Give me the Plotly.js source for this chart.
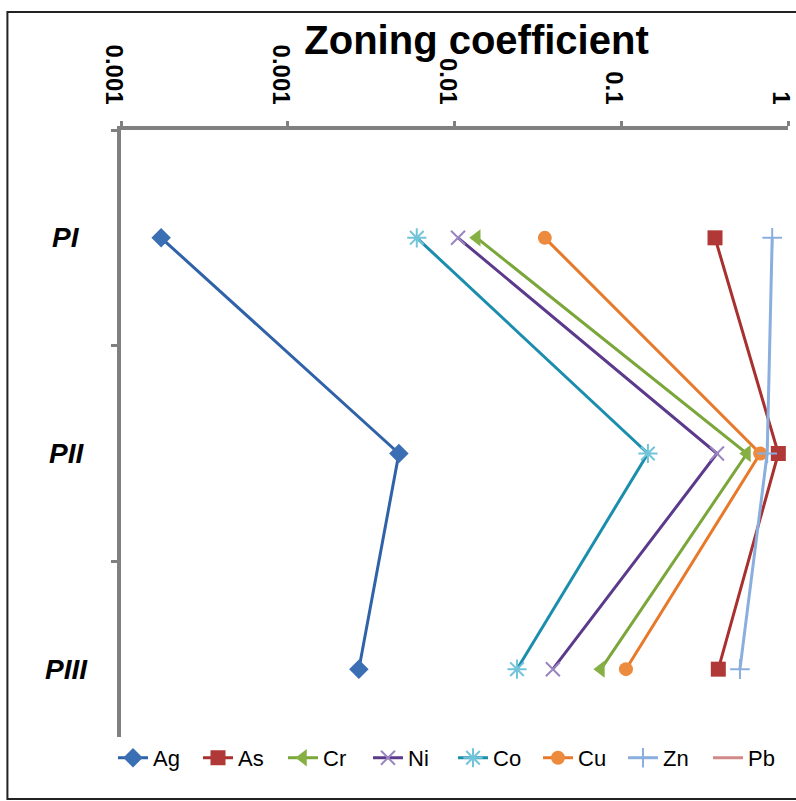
<!DOCTYPE html>
<html>
<head>
<meta charset="utf-8">
<script src="https://cdn.plot.ly/plotly-3.0.1.min.js"></script>
<style>
  html, body { margin: 0; padding: 0; background: #ffffff; }
  #chart { width: 796px; height: 801px; }
</style>
</head>
<body>
<div id="chart"></div>
<script>
// Zoning coefficient of each element for the three stages
const stages = ['PI', 'PII', 'PIII'];

const ag = [0.000174, 0.00464, 0.00267];
const as = [0.365, 0.875, 0.382];
const cr = [0.0136, 0.567, 0.0755];
const ni = [0.0105, 0.375, 0.0389];
const co = [0.00594, 0.1445, 0.0237];
const cu = [0.0348, 0.681, 0.1067];
const zn = [0.804, 0.75, 0.515];
const pb = [null, null, null];

const xTickVals = [0.0001, 0.001, 0.01, 0.1, 1];
const xTickText = ['0.001', '0.001', '0.01', '0.1', '1'];

function series(name, values, lineColor, markerColor, symbol, size, open) {
  const marker = { symbol: symbol, size: size, color: markerColor };
  if (open) marker.line = { color: markerColor, width: 2 };
  return {
    type: 'scatter',
    mode: 'lines+markers',
    name: name,
    x: values,
    y: stages,
    line: { color: lineColor, width: 3 },
    marker: marker
  };
}

const traces = [
  series('Ag', ag, '#2f62a8', '#3a6fb4', 'diamond', 15, false),
  series('As', as, '#a8302e', '#b03836', 'square', 15, false),
  series('Cr', cr, '#7aa63a', '#86b043', 'triangle-left', 15, false),
  series('Ni', ni, '#5b3a8c', '#9a85c0', 'x-thin-open', 14, true),
  series('Co', co, '#1c8ead', '#72c4d9', 'asterisk-open', 16, true),
  series('Cu', cu, '#e8792a', '#ec8a3e', 'circle', 14, false),
  series('Zn', zn, '#8aaede', '#8aaede', 'cross-thin-open', 14, true),
  { type: 'scatter', mode: 'lines', name: 'Pb', x: pb, y: stages,
    line: { color: '#d08a88', width: 3 } }
];

const axisGray = '#808080';

const layout = {
  width: 796,
  height: 801,
  margin: { l: 121, r: 8, t: 130, b: 24, autoexpand: false },
  paper_bgcolor: '#ffffff',
  plot_bgcolor: '#ffffff',
  font: { family: 'Arial, Liberation Sans, sans-serif', color: '#000000' },
  title: {
    text: 'Zoning coefficient',
    font: { size: 40, weight: 'bold', color: '#000000' },
    xref: 'paper', x: 0.533, xanchor: 'center',
    yref: 'container', y: 0.95, yanchor: 'middle'
  },
  xaxis: {
    type: 'log',
    side: 'top',
    range: [-4, 0],
    tickvals: xTickVals,
    ticktext: xTickText,
    tickangle: 90,
    tickfont: { size: 24, weight: 'bold', color: '#000000' },
    ticks: 'outside', ticklen: 5, tickwidth: 3, tickcolor: axisGray,
    ticklabelstandoff: 8,
    ticklabelshift: -7,
    showline: true, linecolor: axisGray, linewidth: 4,
    showgrid: false, zeroline: false
  },
  yaxis: {
    type: 'category',
    categoryorder: 'array',
    categoryarray: stages,
    range: [2.5, -0.5],
    tickson: 'boundaries',
    ticks: 'outside', ticklen: 6, tickwidth: 3, tickcolor: axisGray,
    showticklabels: false,
    showline: true, linecolor: axisGray, linewidth: 4,
    showgrid: false, zeroline: false
  },
  annotations: stages.map(s => ({
    text: s,
    xref: 'paper', x: -0.082, xanchor: 'center',
    yref: 'y', y: s, yanchor: 'middle',
    showarrow: false,
    font: { size: 28, weight: 'bold', style: 'italic', color: '#000000' }
  })),
  legend: {
    orientation: 'h',
    xref: 'paper', x: -0.012, xanchor: 'left',
    yref: 'paper', y: -0.003, yanchor: 'bottom',
    bgcolor: '#ffffff',
    font: { size: 22, color: '#000000' },
    itemwidth: 30,
    entrywidth: 40,
    entrywidthmode: 'pixels'
  },
  shapes: [
    { type: 'rect', xref: 'paper', yref: 'paper',
      x0: -0.1703, x1: 1.02, y0: -0.034, y1: 1.1824,
      line: { color: '#222222', width: 2 }, fillcolor: 'rgba(0,0,0,0)', layer: 'above' }
  ]
};

Plotly.newPlot('chart', traces, layout, { displayModeBar: false, staticPlot: true });
</script>
</body>
</html>
